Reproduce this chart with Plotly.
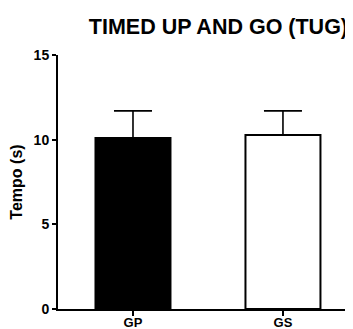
import plotly.graph_objects as go

categories = ["GP", "GS"]
means = [10.1, 10.28]
sem = [1.6, 1.42]
fill_colors = ["#000000", "#ffffff"]
y_ticks = [0, 5, 10, 15]

FONT = "Liberation Sans, Arial, Helvetica, sans-serif"

# the page body adds an 8px offset, so the figure is 345x321
fig = go.Figure()
fig.add_trace(go.Bar(
    x=categories, y=means, width=0.5,
    marker=dict(color=fill_colors, line=dict(color="#000000", width=2)),
    error_y=dict(type="data", array=sem, arrayminus=[0, 0], symmetric=False,
                 color="#000000", thickness=1.6, width=19),
))

fig.update_layout(
    width=345, height=321,
    margin=dict(l=50, r=0, t=47, b=20),
    paper_bgcolor="white", plot_bgcolor="white",
    showlegend=False,
    title=dict(text="TIMED UP AND GO (TUG)", x=0.610, xanchor="center", y=0.944, yanchor="middle",
               font=dict(family=FONT, size=21.5, color="#000000", weight="bold")),
    font=dict(family=FONT, color="#000000"),
    xaxis=dict(range=[-0.5, 1.467], showline=True, linecolor="#000000", linewidth=2,
               ticks="outside", ticklen=5, tickwidth=2, tickcolor="#000000",
               showgrid=False, zeroline=False, automargin=False, ticklabelstandoff=-5,
               tickfont=dict(family=FONT, size=13, color="#000000", weight="bold")),
    yaxis=dict(range=[0, 15], tickvals=y_ticks, showline=True, linecolor="#000000", linewidth=2,
               ticks="outside", ticklen=4, tickwidth=2, tickcolor="#000000",
               showgrid=False, zeroline=False, automargin=False,
               title=dict(text="Tempo (s)", standoff=8,
                          font=dict(family=FONT, size=16, color="#000000", weight="bold")),
               tickfont=dict(family=FONT, size=14, color="#000000", weight="bold")),
)

fig.write_html("out.html")
